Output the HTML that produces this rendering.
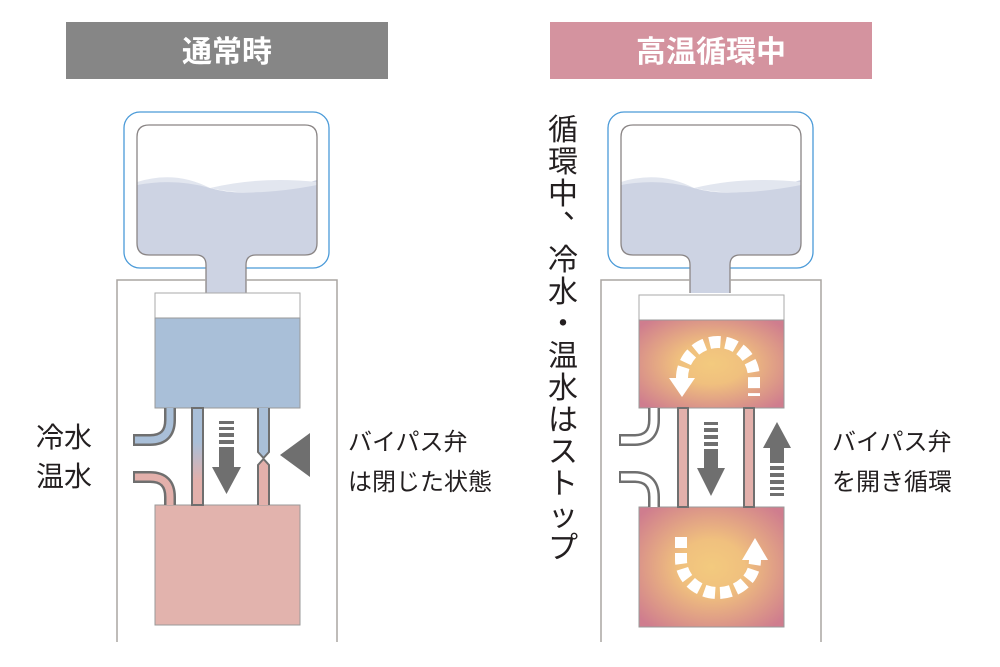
<!DOCTYPE html>
<html><head><meta charset="utf-8"><style>
body{margin:0;background:#fff}
svg{display:block}
text{font-family:"Liberation Sans","Noto Sans CJK JP",sans-serif}
</style></head><body>
<svg width="1000" height="667" viewBox="0 0 1000 667" xmlns="http://www.w3.org/2000/svg">
<defs>
<radialGradient id="hg" cx="50%" cy="50%" r="65%">
<stop offset="0" stop-color="#f3ca7e"/><stop offset="0.35" stop-color="#f0c07e"/><stop offset="1" stop-color="#cf7d8e"/>
</radialGradient>
<linearGradient id="pg" x1="0" y1="0" x2="0" y2="1">
<stop offset="0.35" stop-color="#a9bfd8"/><stop offset="0.75" stop-color="#e3b0ab"/>
</linearGradient>
<g id="bottle">
<rect x="124" y="112" width="205" height="156" rx="16" fill="#fff" stroke="#4a9ad8" stroke-width="1.3"/>
<path d="M137 185 Q170 175 210 188 Q250 200 317 180 V243 Q317 255 305 255 H256 Q246 255 246 265 V293 H206 V265 Q206 255 196 255 H149 Q137 255 137 243 Z" fill="#cdd3e3"/>
<path d="M137 182 Q175 170 210 188 Q260 176 317 182 L317 185 Q250 198 210 188 Q175 178 137 185Z" fill="#e2e6ef"/>
<path d="M206 293 V265 Q206 255 196 255 H149 Q137 255 137 243 V137 Q137 125 149 125 H305 Q317 125 317 137 V243 Q317 255 305 255 H256 Q246 255 246 265 V293" fill="none" stroke="#8a8585" stroke-width="1.3"/>
<path d="M117 642 V280 H206 M246 280 H337 V642" fill="none" stroke="#aaa5a2" stroke-width="1.5"/>
</g>
</defs>

<rect x="66" y="22" width="322" height="57" fill="#868686"/>
<text x="227" y="62" font-size="30" font-weight="bold" fill="#fff" text-anchor="middle">通常時</text>
<rect x="550" y="22" width="322" height="57" fill="#d4939f"/>
<text x="711" y="62" font-size="30" font-weight="bold" fill="#fff" text-anchor="middle">高温循環中</text>

<!-- LEFT -->
<use href="#bottle"/>
<rect x="155" y="293" width="145" height="25" fill="#fff" stroke="#aaa" stroke-width="1"/>
<rect x="155" y="318" width="145" height="90" fill="#a9bfd8" stroke="#999" stroke-width="1"/>
<rect x="155" y="505" width="145" height="120" fill="#e2b3ad" stroke="#999" stroke-width="1"/>
<path d="M170 408 V420 Q170 440 150 440 H133" fill="none" stroke="#6f6f6f" stroke-width="12"/>
<path d="M170 408 V420 Q170 440 150 440 H135" fill="none" stroke="#a9bfd8" stroke-width="7"/>
<path d="M133 477 H150 Q170 477 170 497 V505" fill="none" stroke="#6f6f6f" stroke-width="12"/>
<path d="M135 477 H150 Q170 477 170 497 V505" fill="none" stroke="#e3b0ab" stroke-width="7"/>
<rect x="192" y="408" width="11" height="97" fill="url(#pg)" stroke="#6f6f6f" stroke-width="2"/>
<path d="M258 408 V452 L263.5 458 L269 452 V408" fill="#a9bfd8" stroke="#6f6f6f" stroke-width="2"/>
<path d="M258 505 V465 L263.5 459 L269 465 V505" fill="#e3b0ab" stroke="#6f6f6f" stroke-width="2"/>
<g fill="#6f6f6f">
<rect x="219" y="421" width="15" height="3"/><rect x="219" y="427" width="15" height="3"/><rect x="219" y="433" width="15" height="4"/><rect x="219" y="440" width="15" height="4"/>
<rect x="219" y="447" width="15" height="20"/><polygon points="212,467 241,467 226.5,494"/>
<polygon points="310,433 310,477 280,455"/>
</g>
<text x="36" y="447" font-size="28" fill="#231f20">冷水</text>
<text x="36" y="486" font-size="28" fill="#231f20">温水</text>
<text x="348" y="450" font-size="24" fill="#231f20">バイパス弁</text>
<text x="348" y="490" font-size="24" fill="#231f20">は閉じた状態</text>

<!-- RIGHT -->
<use href="#bottle" transform="translate(484,0)"/>
<rect x="639" y="295" width="145" height="25" fill="#fff" stroke="#aaa" stroke-width="1"/>
<rect x="639" y="320" width="145" height="88" fill="url(#hg)" stroke="#999" stroke-width="1"/>
<rect x="639" y="507" width="145" height="120" fill="url(#hg)" stroke="#999" stroke-width="1"/>
<path d="M654 408 V420 Q654 440 634 440 H619" fill="none" stroke="#6f6f6f" stroke-width="12"/>
<path d="M654 408 V420 Q654 440 634 440 H621" fill="none" stroke="#fff" stroke-width="7"/>
<path d="M619 477 H634 Q654 477 654 497 V507" fill="none" stroke="#6f6f6f" stroke-width="12"/>
<path d="M621 477 H634 Q654 477 654 497 V507" fill="none" stroke="#fff" stroke-width="7"/>
<rect x="678" y="408" width="10" height="99" fill="#e3b0ab" stroke="#6f6f6f" stroke-width="2"/>
<rect x="744" y="408" width="10" height="99" fill="#e3b0ab" stroke="#6f6f6f" stroke-width="2"/>
<g fill="#6f6f6f">
<rect x="704" y="422" width="14" height="3"/><rect x="704" y="428" width="14" height="4"/><rect x="704" y="435" width="14" height="4"/><rect x="704" y="442" width="14" height="4"/>
<rect x="704" y="449" width="14" height="19"/><polygon points="697,468 725,468 711,496"/>
<polygon points="763,448 791,448 777,422"/><rect x="770" y="448" width="14" height="15"/>
<rect x="770" y="466" width="14" height="4"/><rect x="770" y="473" width="14" height="4"/><rect x="770" y="480" width="14" height="4"/><rect x="770" y="487" width="14" height="3"/><rect x="770" y="493" width="14" height="3"/>
</g>
<g fill="none" stroke="#fff" stroke-width="12" stroke-dasharray="11 5">
<path d="M682 378 A36 36 0 0 1 754 378 V396"/>
<path d="M681 537 V560 A37 33 0 0 0 755 560"/>
</g>
<g fill="#fff">
<polygon points="669,378 695,378 682,397"/>
<polygon points="742,560 768,560 755,538"/>
</g>
<g font-size="30" fill="#231f20" text-anchor="middle">
<text x="563" y="140">循</text><text x="563" y="172">環</text><text x="563" y="204">中</text><text x="578" y="218">、</text>
<text x="563" y="270">冷</text><text x="563" y="302">水</text><text x="563" y="334">・</text>
<text x="563" y="366">温</text><text x="563" y="398">水</text><text x="563" y="430">は</text>
<text x="563" y="462">ス</text><text x="563" y="494">ト</text><text x="563" y="526">ッ</text><text x="563" y="558">プ</text>
</g>
<text x="832" y="450" font-size="24" fill="#231f20">バイパス弁</text>
<text x="832" y="490" font-size="24" fill="#231f20">を開き循環</text>
</svg>
</body></html>
